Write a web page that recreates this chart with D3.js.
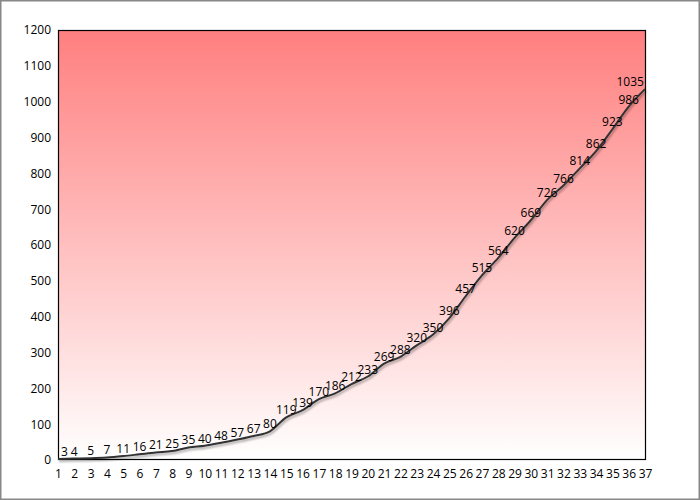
<!DOCTYPE html>
<html><head><meta charset="utf-8">
<script src="https://cdn.jsdelivr.net/npm/d3@7"></script>
<style>body{margin:0;background:#fff}svg{display:block}text{font-family:"Open Sans",sans-serif}</style>
</head><body>
<svg id="c" width="700" height="500"></svg>
<script>
const categories = d3.range(1, 38);
const values = [3,4,5,7,11,16,21,25,35,40,48,57,67,80,119,139,170,186,212,233,269,288,320,350,396,457,515,564,620,669,726,766,814,862,923,986,1035];
const yTicks = [0,100,200,300,400,500,600,700,800,900,1000,1100,1200];

const svg = d3.select("#c");
const W = 700, H = 500;
const m = {l:58, r:55, t:30, b:40};
const x = d3.scaleLinear().domain([1, 37]).range([m.l, W - m.r]);
const y = d3.scaleLinear().domain([0, 1200]).range([H - m.b, m.t]);

svg.append("rect").attr("x",0.75).attr("y",0.75).attr("width",W-1.5).attr("height",H-1.5)
  .attr("fill","#fff").attr("stroke","#888").attr("stroke-width",1.5);

const defs = svg.append("defs");
const g = defs.append("linearGradient").attr("id","bg").attr("x1",0).attr("x2",0).attr("y1",0).attr("y2",1);
g.append("stop").attr("offset","0%").attr("stop-color","#ff7f7f");
g.append("stop").attr("offset","100%").attr("stop-color","#ffffff");
const f = defs.append("filter").attr("id","sh").attr("x","-10%").attr("y","-10%").attr("width","120%").attr("height","120%");
f.append("feDropShadow").attr("dx",1).attr("dy",2).attr("stdDeviation",1.2).attr("flood-color","#000").attr("flood-opacity",0.35);

svg.append("rect").attr("x",m.l).attr("y",m.t).attr("width",W-m.l-m.r).attr("height",H-m.t-m.b)
  .attr("fill","url(#bg)");

// y axis labels
const ya = svg.append("g").attr("transform",`translate(${m.l},0)`)
  .call(d3.axisLeft(y).tickValues(yTicks).tickFormat(d3.format("d")).tickSize(0).tickPadding(7));
ya.select(".domain").remove();
ya.selectAll("text").attr("font-size",12).attr("fill","#000").attr("font-family","Open Sans");

// x axis labels
const xa = svg.append("g").attr("transform",`translate(0,${H-m.b})`)
  .call(d3.axisBottom(x).tickValues(categories).tickFormat(d3.format("d")).tickSize(0).tickPadding(9));
xa.select(".domain").remove();
xa.selectAll("text").attr("font-size",12).attr("fill","#000").attr("font-family","Open Sans");

svg.append("rect").attr("x",m.l+0.5).attr("y",m.t+0.5).attr("width",W-m.l-m.r).attr("height",H-m.t-m.b-1)
  .attr("fill","none").attr("stroke","#000").attr("stroke-width",1.2);

const line = d3.line().x((d,i)=>x(categories[i])).y(d=>y(d)).curve(d3.curveMonotoneX);
svg.append("path").datum(values).attr("d",line).attr("fill","none")
  .attr("stroke","#333").attr("stroke-width",2).attr("filter","url(#sh)");

const lab = svg.append("g").attr("font-size",12).attr("fill","#000").attr("text-anchor","middle");
values.forEach((v,i)=>{
  const t = lab.append("text").attr("x",x(categories[i])).attr("y",y(v)-3).text(v);
  const bb = t.node().getBBox();
  if (bb.x < m.l + 3) t.attr("x", m.l + 3 + bb.width/2);
  if (bb.x + bb.width > W - m.r - 1) t.attr("x", W - m.r - 1 - bb.width/2);
});
</script>
</body></html>
